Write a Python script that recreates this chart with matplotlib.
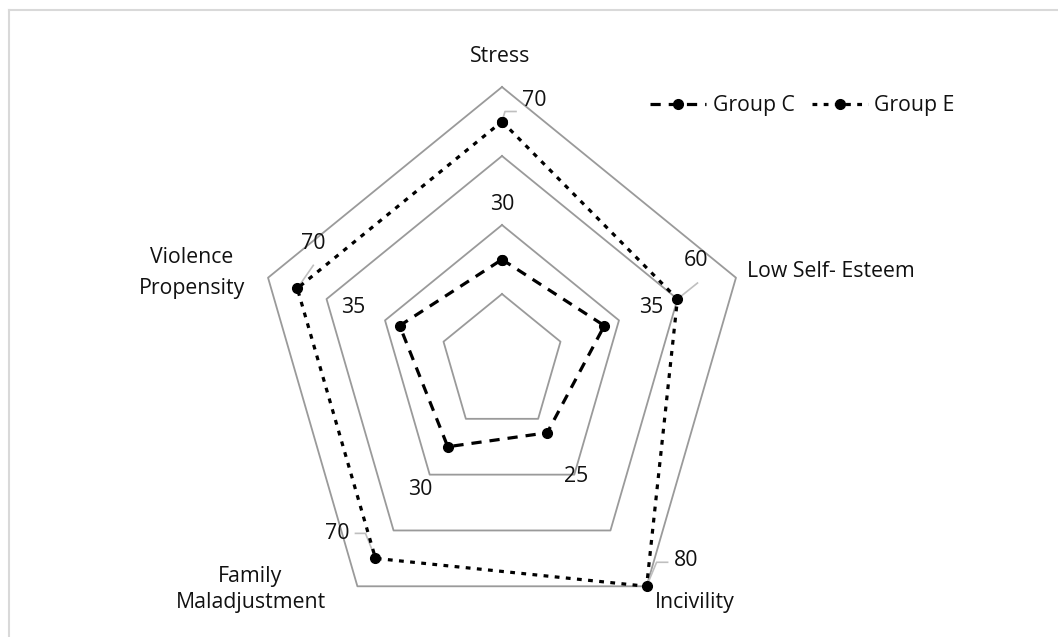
import numpy as np
import matplotlib.pyplot as plt
from matplotlib.lines import Line2D

plt.rcParams['font.family'] = ['Open Sans', 'DejaVu Sans']

categories = ['Stress', 'Low Self- Esteem', 'Incivility', 'Family Maladjustment', 'Violence Propensity']
group_c = [30, 35, 25, 30, 35]
group_e = [70, 60, 80, 70, 70]
rings = [20, 40, 60, 80]

W, H = 1058, 637
CX, CY = 502, 363          # centre of the web, px from top-left
RX, RY = 246, 276          # px for the outer ring (80)
RMAX = 80
FS = 15.3
GRID_COL = '#9a9a9a'
LEADER_COL = '#bfbfbf'
TXT_COL = '#111111'

angles = np.deg2rad([90, 18, -54, -126, 162])


def xy(vals):
    v = np.asarray(vals, dtype=float)
    return v * np.cos(angles), v * np.sin(angles)


fig = plt.figure(figsize=(W / 100, H / 100), dpi=100)
ax = fig.add_axes([0, 0, 1, 1])
ax.set_xlim(-CX / RX * RMAX, (W - CX) / RX * RMAX)
ax.set_ylim(-(H - CY) / RY * RMAX, CY / RY * RMAX)
ax.axis('off')

# web rings
for r in rings:
    x, y = xy([r] * 5)
    ax.plot(np.append(x, x[0]), np.append(y, y[0]), color=GRID_COL, lw=1.3, zorder=1)

# series
xc, yc = xy(group_c)
xe, ye = xy(group_e)
ax.plot(np.append(xc, xc[0]), np.append(yc, yc[0]), color='black', lw=2.3,
        ls=(0, (3.2, 2.5)), marker='o', ms=7, zorder=3, label='Group C')
ax.plot(np.append(xe, xe[0]), np.append(ye, ye[0]), color='black', lw=2.3,
        ls=(0, (1.5, 2.0)), marker='o', ms=7, zorder=3, label='Group E')

# data labels, offsets in pixels (label centre x, baseline y)
c_offsets = [(0, 50), (47, 13), (29, -49), (-28, -48), (-46, 13)]
e_offsets = [(32, 16), (19, 33), (40, 20), (-38, 19), (16, 39)]
e_leaders = [[(0, 0), (3, 10), (14, 10)],
             [(0, 0), (20, 16)],
             [(0, 0), (10, 24), (21, 24)],
             [(0, 0), (-10, 25), (-20, 25)],
             [(0, 0), (16, 23)]]

for i, v in enumerate(group_c):
    ax.annotate(str(v), (xc[i], yc[i]), xytext=c_offsets[i], textcoords='offset pixels',
                ha='center', va='baseline', fontsize=FS, color=TXT_COL, zorder=4)

for i, v in enumerate(group_e):
    ax.annotate(str(v), (xe[i], ye[i]), xytext=e_offsets[i], textcoords='offset pixels',
                ha='center', va='baseline', fontsize=FS, color=TXT_COL, zorder=4)
    px, py = ax.transData.transform((xe[i], ye[i]))
    pts = np.array(e_leaders[i], dtype=float)
    ax.add_line(Line2D(px + pts[:, 0], py + pts[:, 1], transform=None,
                       color=LEADER_COL, lw=1.2, zorder=2))

# category labels, offsets from the outer vertex
xo, yo = xy([RMAX] * 5)
cat_lines = [[('Stress', -2, 25)],
             [('Low Self- Esteem', 11, 1)],
             [('Incivility', 48, -22)],
             [('Family', -107, 4), ('Maladjustment', -106, -22)],
             [('Violence', -76, 15), ('Propensity', -76, -16)]]
for i, lines in enumerate(cat_lines):
    for txt, dx, dy in lines:
        ax.annotate(txt, (xo[i], yo[i]), xytext=(dx, dy), textcoords='offset pixels',
                    ha='left' if i == 1 else 'center', va='baseline', fontsize=FS,
                    color=TXT_COL)

leg = ax.legend(loc='center left', bbox_to_anchor=(650 / W, 1 - 106 / H),
                bbox_transform=fig.transFigure, frameon=False, ncol=2, fontsize=FS,
                handlelength=2.65, handletextpad=0.3, columnspacing=0.8,
                borderpad=0, borderaxespad=0, numpoints=1)
for t in leg.get_texts():
    t.set_color(TXT_COL)

# chart border (top and left edges visible)
fig.add_artist(Line2D([9 / W, 1], [1 - 10 / H, 1 - 10 / H], transform=fig.transFigure,
                      color='#d9d9d9', lw=1.5))
fig.add_artist(Line2D([9 / W, 9 / W], [0, 1 - 10 / H], transform=fig.transFigure,
                      color='#d9d9d9', lw=1.5))

fig.savefig('out.png', dpi=100)
